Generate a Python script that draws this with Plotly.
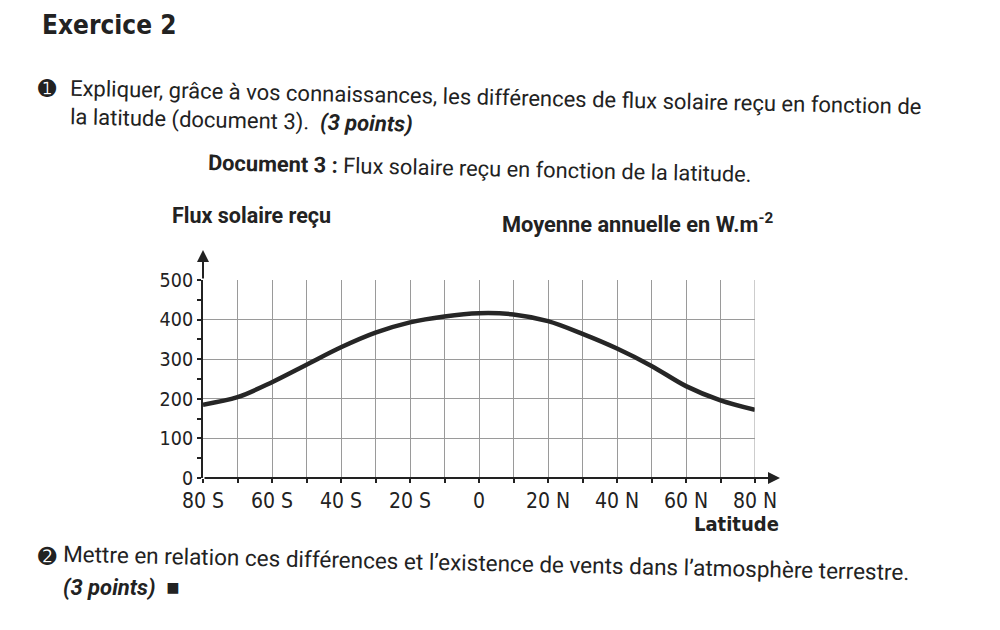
import plotly.graph_objects as go

latitudes = [-80, -70, -60, -50, -40, -30, -20, -10, 0, 10, 20, 30, 40, 50, 60, 70, 80]
flux = [185, 204, 242, 286, 330, 367, 393, 408, 416, 413, 396, 364, 327, 283, 232, 196, 172]

x_ticks = [-80, -70, -60, -50, -40, -30, -20, -10, 0, 10, 20, 30, 40, 50, 60, 70, 80]
x_labels = ["80 S", "", "60 S", "", "40 S", "", "20 S", "", "0", "", "20 N", "", "40 N", "", "60 N", "", "80 N"]
y_ticks = [0, 100, 200, 300, 400, 500]
y_labels = ["0", "100", "200", "300", "400", "500"]

NARROW = "Liberation Sans Narrow, DejaVu Sans Condensed, Arial Narrow, sans-serif"
BODY = "Roboto, Open Sans, sans-serif"
INK = "#222222"

# plot area in pixels
L, R, T, B = 203, 755, 280, 478
W, H = 1000, 630

fig = go.Figure()
fig.add_trace(go.Scatter(
    x=latitudes, y=flux, mode="lines",
    line=dict(color="#262626", width=4.5, shape="spline", smoothing=0.9),
    hoverinfo="skip", showlegend=False, cliponaxis=False,
))

fig.update_layout(
    width=W, height=H,
    margin=dict(l=L, r=W - R, t=T, b=H - B),
    paper_bgcolor="white", plot_bgcolor="white",
    xaxis=dict(
        range=[-80, 80], tickmode="array", tickvals=x_ticks, ticktext=x_labels,
        showgrid=True, gridcolor="#9a9a9a", gridwidth=1,
        showline=False, zeroline=False,
        ticks="outside", ticklen=4, tickcolor=INK, tickwidth=1.5,
        tickfont=dict(family=NARROW, size=21, color=INK),
    ),
    yaxis=dict(
        range=[0, 500], tickmode="array", tickvals=y_ticks, ticktext=y_labels,
        showgrid=True, gridcolor="#9a9a9a", gridwidth=1,
        showline=True, linecolor=INK, linewidth=2,
        zeroline=False,
        ticks="outside", ticklen=4, tickcolor=INK, tickwidth=1.5,
        tickfont=dict(family=NARROW, size=19.5, color=INK),
        minor=dict(tickvals=[50, 150, 250, 350, 450], ticks="outside", ticklen=4, tickcolor=INK, showgrid=False),
    ),
    showlegend=False,
)

def px(x):
    return (x - L) / (R - L)

def py(y):
    return (B - y) / (B - T)

# right frame line at 80 N
fig.add_shape(type="line", xref="x", yref="paper", x0=80, x1=80, y0=0, y1=1,
              line=dict(color="#9a9a9a", width=1))

# axis arrows
fig.add_annotation(x=px(L), y=py(250), xref="paper", yref="paper", ax=0, ay=30,
                   showarrow=True, arrowhead=2, arrowsize=1.2, arrowwidth=2, arrowcolor=INK, text="")
fig.add_annotation(x=px(780), y=0, xref="paper", yref="paper", ax=-(780 - L), ay=0,
                   showarrow=True, arrowhead=2, arrowsize=1.2, arrowwidth=2, arrowcolor=INK, text="")

def txt(x, y, s, size, family=BODY, anchor="left", angle=0.0, color=INK):
    fig.add_annotation(x=px(x), y=py(y), xref="paper", yref="paper",
                       text=s, showarrow=False, xanchor=anchor, yanchor="middle",
                       textangle=angle, font=dict(family=family, size=size, color=color))

TILT = 1.25
txt(40, 25, "<b>Exercice 2</b>", 26, family=NARROW)
txt(47, 88, "➊", 22, family="DejaVu Sans", anchor="center")
txt(68, 97, "Expliquer, grâce à vos connaissances, les différences de flux solaire reçu en fonction de", 22, angle=TILT)
txt(68, 121, "la latitude (document 3).  <b><i>(3 points)</i></b>", 22, angle=TILT)
txt(206, 168, "<b>Document 3 :</b> Flux solaire reçu en fonction de la latitude.", 21.8, angle=TILT)
txt(170, 215, "<b>Flux solaire reçu</b>", 21.5)
txt(500, 223, "<b>Moyenne annuelle en W.m<sup>-2</sup></b>", 21.8)
txt(781, 524, "<b>Latitude</b>", 20, family=NARROW, anchor="right")
txt(47, 556, "➋", 22, family="DejaVu Sans", anchor="center")
txt(61, 563, "Mettre en relation ces différences et l’existence de vents dans l’atmosphère terrestre.", 22.5, angle=TILT)
txt(61, 587, "<b><i>(3 points)</i></b>  ■", 22)

fig.write_html("out.html")
